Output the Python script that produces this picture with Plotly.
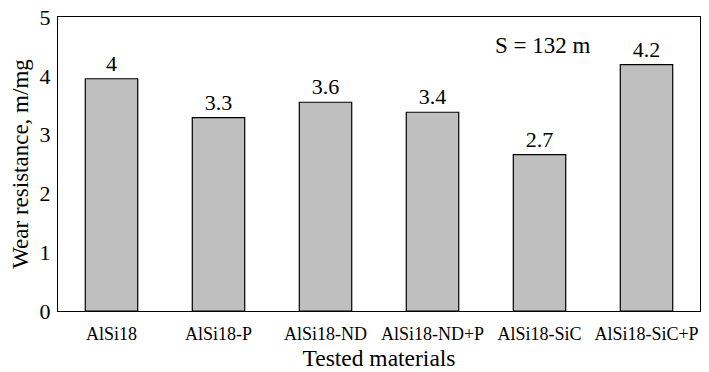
import plotly.graph_objects as go

materials = ["AlSi18", "AlSi18-P", "AlSi18-ND", "AlSi18-ND+P", "AlSi18-SiC", "AlSi18-SiC+P"]
wear_resistance = [3.95, 3.29, 3.55, 3.38, 2.66, 4.19]
value_labels = ["4", "3.3", "3.6", "3.4", "2.7", "4.2"]
y_ticks = [0, 1, 2, 3, 4, 5]

FONT = "Liberation Serif"

fig = go.Figure(
    go.Bar(
        x=materials,
        y=wear_resistance,
        width=0.49,
        marker=dict(color="#bfbfbf", line=dict(color="black", width=1.2)),
        text=value_labels,
        textposition="outside",
        textfont=dict(family=FONT, size=22, color="black"),
        cliponaxis=False,
    )
)

# the page body keeps an 8px default margin, so the figure is 8px smaller
fig.update_layout(
    width=701,
    height=364,
    margin=dict(l=50, r=9, t=9, b=61),
    paper_bgcolor="white",
    plot_bgcolor="white",
    showlegend=False,
    font=dict(family=FONT, color="black"),
    xaxis=dict(
        title=dict(text="Tested materials", font=dict(family=FONT, size=23.5), standoff=6),
        tickfont=dict(family=FONT, size=18),
        showline=True, linecolor="black", linewidth=1.2, mirror=True,
        ticks="", showgrid=False, automargin=False,
        ticklabelstandoff=6,
    ),
    yaxis=dict(
        title=dict(text="Wear resistance, m/mg", font=dict(family=FONT, size=23), standoff=8),
        range=[0, 5],
        tickvals=y_ticks,
        tickfont=dict(family=FONT, size=22),
        showline=True, linecolor="black", linewidth=1.2, mirror=True,
        ticks="", showgrid=False, zeroline=False,
        ticklabelstandoff=2, automargin=False,
        ticklabeloverflow="allow",
    ),
    annotations=[
        dict(
            text="S = 132 m", x=0.755, y=4.52, xref="paper", yref="y",
            xanchor="center", yanchor="middle",
            showarrow=False, font=dict(family=FONT, size=23, color="black"),
        )
    ],
)

fig.write_html("out.html")
